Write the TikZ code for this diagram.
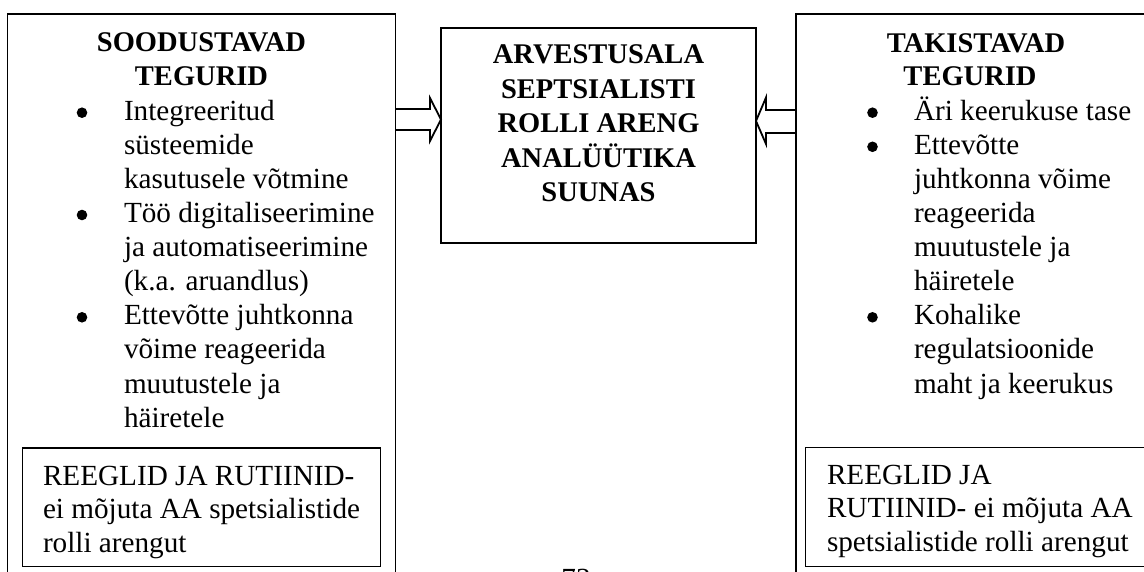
\documentclass[tikz,border=0pt]{standalone}
\usepackage{fontspec}
\setmainfont{Liberation Serif}
\begin{document}
\begin{tikzpicture}[x=1pt,y=-1pt,
  frame/.style={draw=black,line width=1.8pt,inner sep=0pt,outer sep=0pt},
  subframe/.style={draw=black,line width=1.4pt,inner sep=0pt,outer sep=0pt},
  blockarrow/.style={draw=black,line width=1.8pt,line join=miter},
  txt/.style={inner sep=0pt,outer sep=0pt,font=\fontsize{29.2}{34}\selectfont},
  headtxt/.style={txt,font=\fontsize{28.5}{34}\selectfont\bfseries},
  dot/.style={fill=black,circle,inner sep=0pt,minimum size=10.6pt}]
\useasboundingbox (0,0) rectangle (1144,572);
\fill[white] (0,0) rectangle (1144,572);

% three main boxes
\node[frame,anchor=north west,minimum width=388pt,minimum height=600pt] (pro) at (7.5,14) {};
\node[frame,anchor=north west,minimum width=315pt,minimum height=214.5pt] (goal) at (441,28.3) {};
\node[frame,anchor=north west,minimum width=370pt,minimum height=600pt] (contra) at (796,14) {};

% boxes for rules and routines
\node[subframe,anchor=north west,minimum width=357.5pt,minimum height=118.5pt] (prorules) at (22.7,448) {};
\node[subframe,anchor=north west,minimum width=350pt,minimum height=118.5pt] (contrarules) at (805.7,447.7) {};

% block arrows towards the centre box
\draw[blockarrow] (pro.east |- 0,109) -- (430,109) -- (430,98) -- (goal.west |- 0,119.5)
  -- (430,141) -- (430,130) -- (pro.east |- 0,130);
\draw[blockarrow] (contra.west |- 0,110) -- (766,110) -- (766,97.5) -- (goal.east |- 0,121)
  -- (766,144) -- (766,133) -- (contra.west |- 0,133);

% centre box text
\foreach \t [count=\i from 0] in {ARVESTUSALA,SEPTSIALISTI,ROLLI ARENG,ANALÜÜTIKA,SUUNAS}
  \node[headtxt,anchor=base] (goal-\i) at (598.5,{63.5+34.6*\i}) {\t};

% left box: favourable factors
\node[headtxt,anchor=base] (pro-h1) at (201.5,52) {SOODUSTAVAD};
\node[headtxt,anchor=base] (pro-h2) at (201.5,86) {TEGURID};
\foreach \y in {120.2,222.5,324.8}
  \node[dot] at (82,\y-7.5) {};
\foreach \t [count=\i from 0] in {Integreeritud,süsteemide,kasutusele võtmine,
    Töö digitaliseerimine,ja automatiseerimine,(k.a. aruandlus),
    Ettevõtte juhtkonna,võime reageerida,muutustele ja,häiretele}
  \node[txt,anchor=base west] (pro-\i) at (124,{120.2+34.1*\i}) {\t};
\foreach \t [count=\i from 0] in {REEGLID JA RUTIINID-,ei mõjuta AA spetsialistide,rolli arengut}
  \node[txt,anchor=base west] (prorules-\i) at (43,{485+33.5*\i}) {\t};

% right box: hindering factors
\node[headtxt,anchor=base] (contra-h1) at (976,53) {TAKISTAVAD};
\node[headtxt,anchor=base] (contra-h2) at (970,86) {TEGURID};
\foreach \y in {120.2,154.3,324.8}
  \node[dot] at (872.5,\y-7.5) {};
\foreach \t [count=\i from 0] in {Äri keerukuse tase,Ettevõtte,juhtkonna võime,reageerida,
    muutustele ja,häiretele,Kohalike,regulatsioonide,maht ja keerukus}
  \node[txt,anchor=base west] (contra-\i) at (914,{120.2+34.1*\i}) {\t};
\foreach \t [count=\i from 0] in {REEGLID JA,RUTIINID- ei mõjuta AA,spetsialistide rolli arengut}
  \node[txt,anchor=base west] (contrarules-\i) at (827,{484+33.5*\i}) {\t};

% page number at the lower edge
\node[txt,anchor=base] (page) at (576,588) {73};
\end{tikzpicture}
\end{document}
